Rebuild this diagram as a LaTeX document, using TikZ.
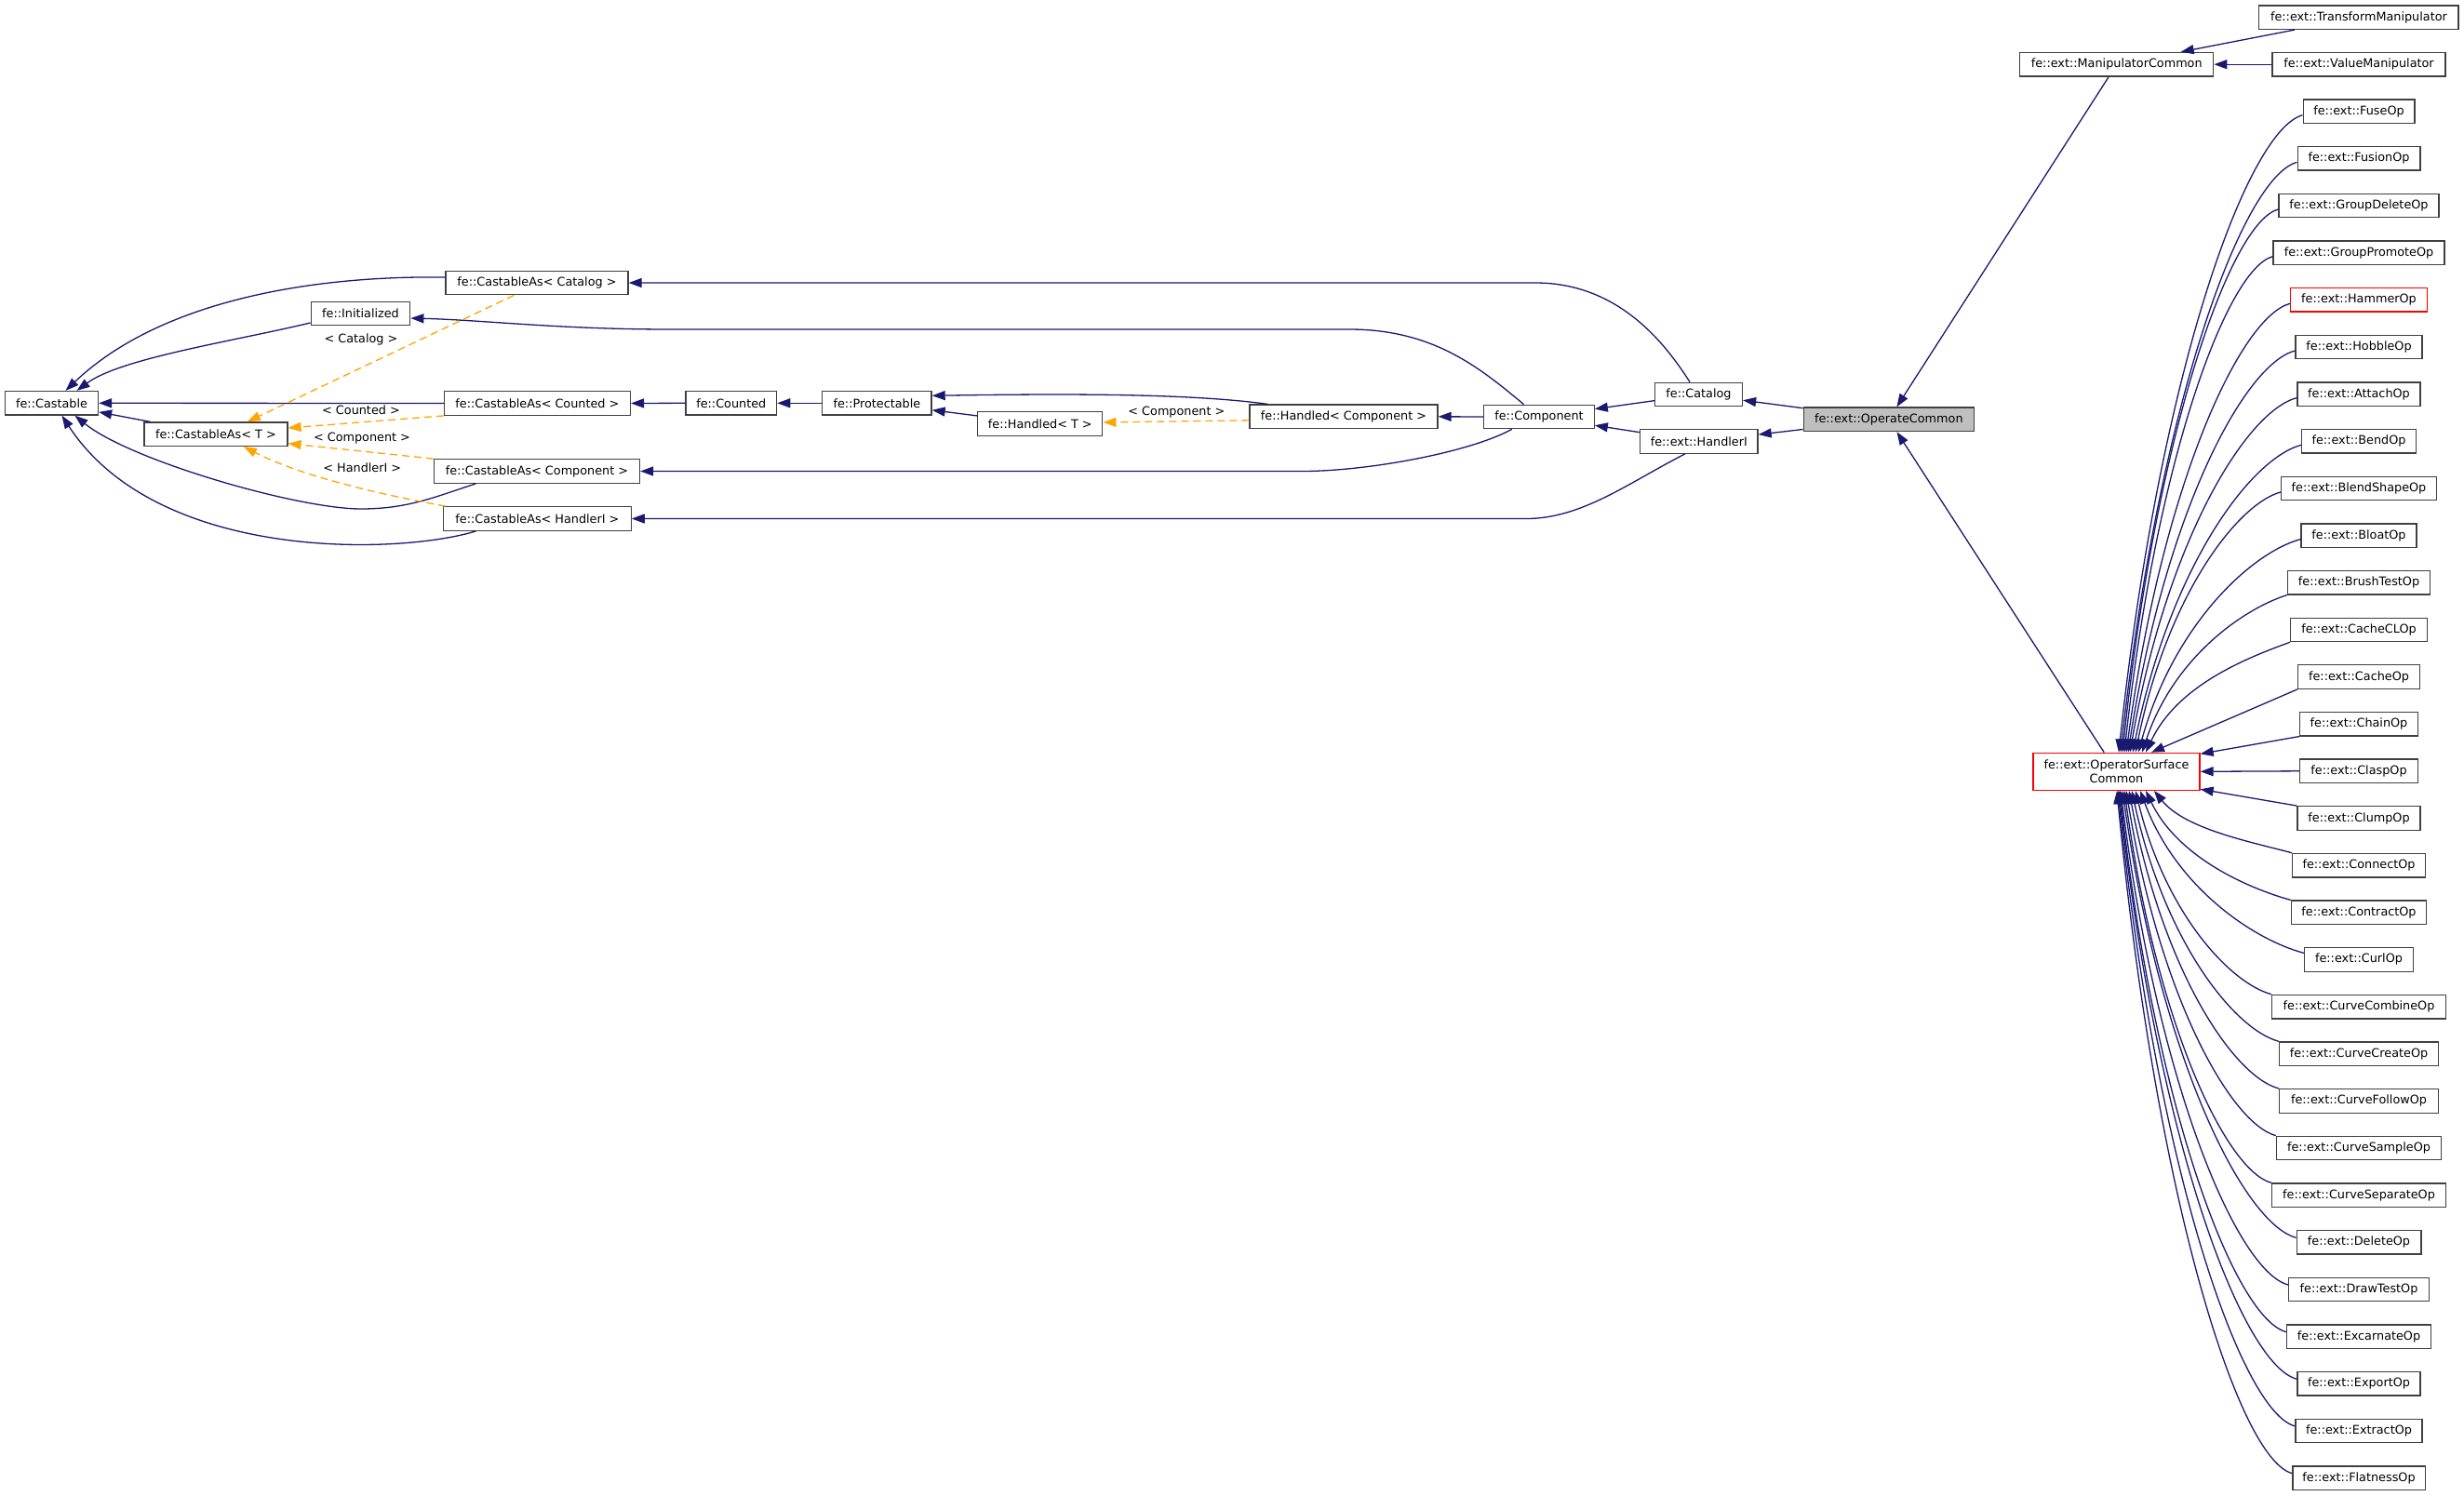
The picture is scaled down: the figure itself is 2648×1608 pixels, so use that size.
\documentclass[tikz,border=0pt]{standalone}
\usepackage{fontspec}
\setmainfont{DejaVu Sans}
\usetikzlibrary{arrows.meta,calc}
\definecolor{edgeblue}{HTML}{191970}
\definecolor{tmplorange}{HTML}{FFA500}
\definecolor{boxline}{HTML}{404040}
\definecolor{curfill}{HTML}{BFBFBF}
\definecolor{truncred}{HTML}{FF0000}
\newcommand{\dxfont}{\fontsize{12.8pt}{14.5pt}\selectfont}
\tikzset{
  classbox/.style={draw=boxline, fill=white, line width=1.3pt, minimum width=#1pt,
                   minimum height=25.5pt, inner sep=0pt, font=\dxfont},
  currentbox/.style={classbox=#1, fill=curfill},
  truncbox/.style={classbox=#1, draw=truncred},
  inherit/.style={draw=edgeblue, line width=1.3pt, -{Triangle[length=14pt,width=10pt]}},
  tmpl/.style={draw=tmplorange, line width=1.3pt, dash pattern=on 8pt off 5pt,
               -{Triangle[length=14pt,width=10pt]}},
  edgelabel/.style={font=\dxfont, inner sep=0pt},
}
\begin{document}
\begin{tikzpicture}[x=1pt, y=-1pt]
    \useasboundingbox (0,0) rectangle (2648,1608);
    % left part
    \node[classbox=100] (castable) at (55.5, 433.3) {fe::Castable};
    \node[classbox=154] (casT) at (231.9, 466.7) {fe::CastableAs< T >};
    \node[classbox=106.5] (initialized) at (387.5, 337) {fe::Initialized};
    \node[classbox=196] (cCatalog) at (577, 304) {fe::CastableAs< Catalog >};
    \node[classbox=200] (cCounted) at (577.4, 433.5) {fe::CastableAs< Counted >};
    \node[classbox=221] (cComponent) at (577, 506.5) {fe::CastableAs< Component >};
    \node[classbox=201.5] (cHandlerI) at (577.4, 557.5) {fe::CastableAs< HandlerI >};
    \node[classbox=97.6] (counted) at (785.8, 433.3) {fe::Counted};
    \node[classbox=117.3] (protectable) at (942.4, 433.3) {fe::Protectable};
    \node[classbox=134] (handledT) at (1117.8, 455.5) {fe::Handled< T >};
    \node[classbox=202] (handledC) at (1444, 447.8) {fe::Handled< Component >};
    \node[classbox=118.4] (component) at (1654, 448) {fe::Component};
    \node[classbox=94] (catalog) at (1825.5, 424) {fe::Catalog};
    \node[classbox=126.5] (handlerI) at (1825.8, 474.5) {fe::ext::HandlerI};
    \node[currentbox=183] (operate) at (2029.8, 450.8) {fe::ext::OperateCommon};
    \node[classbox=208] (manip) at (2274.7, 69.2) {fe::ext::ManipulatorCommon};
    \node[classbox=214.3] (transform) at (2534.9, 18.7) {fe::ext::TransformManipulator};
    \node[classbox=186] (value) at (2535, 69.2) {fe::ext::ValueManipulator};
    \node[truncbox=179, minimum height=40pt, align=center] (osc) at (2274.5, 829.3) {fe::ext::OperatorSurface\\Common};
    % template labels
    \node[edgelabel] (lCatalog) at (388, 365) {< Catalog >};
    \node[edgelabel] (lCounted) at (388, 440.3) {< Counted >};
    \node[edgelabel] (lComponent) at (389, 470.7) {< Component >};
    \node[edgelabel] (lHandlerI) at (389.3, 502.3) {< HandlerI >};
    \node[edgelabel] (lHandled) at (1264.4, 442.7) {< Component >};
    % right column
    \node[classbox=119.7] (fuseOp) at (2535, 119.7) {fe::ext::FuseOp};
    \node[classbox=131.7] (fusionOp) at (2535, 170.4) {fe::ext::FusionOp};
    \node[classbox=172] (groupDeleteOp) at (2535, 221) {fe::ext::GroupDeleteOp};
    \node[classbox=184] (groupPromoteOp) at (2535, 271.7) {fe::ext::GroupPromoteOp};
    \node[truncbox=146.7] (hammerOp) at (2535, 322.3) {fe::ext::HammerOp};
    \node[classbox=136] (hobbleOp) at (2535, 373) {fe::ext::HobbleOp};
    \node[classbox=132] (attachOp) at (2535, 423.6) {fe::ext::AttachOp};
    \node[classbox=122.7] (bendOp) at (2535, 474.3) {fe::ext::BendOp};
    \node[classbox=166.7] (blendShapeOp) at (2535, 524.9) {fe::ext::BlendShapeOp};
    \node[classbox=124] (bloatOp) at (2535, 575.6) {fe::ext::BloatOp};
    \node[classbox=153.3] (brushTestOp) at (2535, 626.2) {fe::ext::BrushTestOp};
    \node[classbox=146.7] (cacheCLOp) at (2535, 676.9) {fe::ext::CacheCLOp};
    \node[classbox=130.7] (cacheOp) at (2535, 727.5) {fe::ext::CacheOp};
    \node[classbox=127] (chainOp) at (2535, 778.2) {fe::ext::ChainOp};
    \node[classbox=127] (claspOp) at (2535, 828.8) {fe::ext::ClaspOp};
    \node[classbox=132] (clumpOp) at (2535, 879.5) {fe::ext::ClumpOp};
    \node[classbox=142.7] (connectOp) at (2535, 930.1) {fe::ext::ConnectOp};
    \node[classbox=145.3] (contractOp) at (2535, 980.8) {fe::ext::ContractOp};
    \node[classbox=116.7] (curlOp) at (2535, 1031.4) {fe::ext::CurlOp};
    \node[classbox=187] (curveCombineOp) at (2535, 1082.1) {fe::ext::CurveCombineOp};
    \node[classbox=171] (curveCreateOp) at (2535, 1132.7) {fe::ext::CurveCreateOp};
    \node[classbox=170.7] (curveFollowOp) at (2535, 1183.4) {fe::ext::CurveFollowOp};
    \node[classbox=177.3] (curveSampleOp) at (2535, 1234) {fe::ext::CurveSampleOp};
    \node[classbox=187] (curveSeparateOp) at (2535, 1284.7) {fe::ext::CurveSeparateOp};
    \node[classbox=133.7] (deleteOp) at (2535, 1335.3) {fe::ext::DeleteOp};
    \node[classbox=150.7] (drawTestOp) at (2535, 1386) {fe::ext::DrawTestOp};
    \node[classbox=155] (excarnateOp) at (2535, 1436.6) {fe::ext::ExcarnateOp};
    \node[classbox=132] (exportOp) at (2535, 1487.3) {fe::ext::ExportOp};
    \node[classbox=136] (extractOp) at (2535, 1537.9) {fe::ext::ExtractOp};
    \node[classbox=142.3] (flatnessOp) at (2535, 1588.6) {fe::ext::FlatnessOp};
    % inheritance, left part
    \draw[inherit] ($(cCatalog.west)+(0,-6)$) .. controls (330,296) and (170,325) .. ($(castable.north)+(15,0)$);
    \draw[inherit] ($(initialized.west)+(0,10)$) .. controls (250,367) and (130,385) .. ($(castable.north)+(27,0)$);
    \draw[inherit] (cCounted.west) -- (castable.east);
    \draw[inherit] (casT) -- (castable);
    \draw[inherit] ($(cComponent.south west)+(45.5,0)$) .. controls (470,533) and (440,547) .. (388,547)
        .. controls (320,547) and (140,495) .. ($(castable.south)+(25,0)$);
    \draw[inherit] ($(cHandlerI.south west)+(35.4,0)$) .. controls (430,596) and (170,605) .. ($(castable.south)+(11,0)$);
    \draw[tmpl] ($(cCatalog.south west)+(74,0)$) -- ($(casT.north)+(34,0)$);
    \draw[tmpl] (cCounted.south west) -- ($(casT.east)+(0,-6.7)$);
    \draw[tmpl] (cComponent.north west) -- ($(casT.east)+(0,10)$);
    \draw[tmpl] ($(cHandlerI.north west)+(3,0)$) .. controls (400,530) and (320,510) .. ($(casT.south)+(30,0)$);
    % inheritance, middle part
    \draw[inherit] (counted.west) -- (cCounted.east);
    \draw[inherit] (protectable.west) -- (counted.east);
    \draw[inherit] (handledT) -- (protectable);
    \draw[inherit] ($(handledC.north west)+(20,0)$) .. controls (1280,423) and (1150,423) .. ($(protectable.east)+(0,-8)$);
    \draw[tmpl] ($(handledC.west)+(0,4)$) -- ($(handledT.east)+(0,-1.5)$);
    \draw[inherit] (component.west) -- (handledC.east);
    \draw[inherit] ($(catalog.north)+(-9.5,0)$) .. controls (1790,370) and (1740,304) .. (1650,304) -- (cCatalog.east);
    \draw[inherit] ($(component.north)+(-16.5,0)$) .. controls (1590,395) and (1540,354) .. (1450,354) -- (720,354)
        .. controls (600,354) and (520,344) .. ($(initialized.east)+(0,5)$);
    \draw[inherit] ($(component.south)+(-29.3,0)$) .. controls (1580,486) and (1470,506.5) .. (1400,506.5) -- (cComponent.east);
    \draw[inherit] ($(handlerI.south)+(-15,0)$) .. controls (1750,519) and (1700,557.5) .. (1640,557.5) -- (cHandlerI.east);
    \draw[inherit] (catalog) -- (component);
    \draw[inherit] (handlerI) -- (component);
    \draw[inherit] (operate) -- (catalog);
    \draw[inherit] (operate) -- (handlerI);
    \draw[inherit] (manip) -- (operate);
    \draw[inherit] (osc) -- (operate);
    \draw[inherit] (transform) -- (manip);
    \draw[inherit] (value.west) -- (manip.east);
    % inheritance, right column
    \draw[inherit] ($(fuseOp.west)+(0,4)$) .. controls +(-59,16) and +(44,-411) .. ($(osc.north)+(2.5,0)$);
    \draw[inherit] ($(fusionOp.west)+(0,4)$) .. controls +(-57,15) and +(42,-381) .. ($(osc.north)+(4.5,0)$);
    \draw[inherit] ($(groupDeleteOp.west)+(0,4)$) .. controls +(-50,13) and +(37,-351) .. ($(osc.north)+(6.5,0)$);
    \draw[inherit] ($(groupPromoteOp.west)+(0,4)$) .. controls +(-48,13) and +(35,-320) .. ($(osc.north)+(8.5,0)$);
    \draw[inherit] ($(hammerOp.west)+(0,4)$) .. controls +(-53,14) and +(39,-290) .. ($(osc.north)+(10.5,0)$);
    \draw[inherit] ($(hobbleOp.west)+(0,4)$) .. controls +(-54,14) and +(40,-259) .. ($(osc.north)+(12.5,0)$);
    \draw[inherit] ($(attachOp.west)+(0,4)$) .. controls +(-54,14) and +(40,-229) .. ($(osc.north)+(14.5,0)$);
    \draw[inherit] ($(bendOp.west)+(0,4)$) .. controls +(-55,15) and +(40,-199) .. ($(osc.north)+(17.5,0)$);
    \draw[inherit] ($(blendShapeOp.west)+(0,4)$) .. controls +(-47,13) and +(34,-168) .. ($(osc.north)+(20.5,0)$);
    \draw[inherit] ($(bloatOp.west)+(0,4)$) .. controls +(-52,14) and +(38,-138) .. ($(osc.north)+(23.5,0)$);
    \draw[inherit] (brushTestOp.south west) .. controls +(-47,15) and +(34,-102) .. ($(osc.north)+(27.5,0)$);
    \draw[inherit] (cacheCLOp.south west) .. controls +(-47,17) and +(34,-72) .. ($(osc.north)+(31.5,0)$);
    \draw[inherit] (cacheOp.south west) -- ($(osc.north)+(37.5,0)$);
    \draw[inherit] (chainOp.south west) -- ($(osc.east)+(0,-19)$);
    \draw[inherit] (claspOp.west) -- (osc.east);
    \draw[inherit] (clumpOp.north west) -- ($(osc.east)+(0,19)$);
    \draw[inherit] (connectOp.north west) .. controls +(-45,-12) and +(33,41) .. ($(osc.south)+(40.5,0)$);
    \draw[inherit] (contractOp.north west) .. controls +(-47,-13) and +(34,71) .. ($(osc.south)+(31.5,0)$);
    \draw[inherit] ($(curlOp.west)+(0,-7)$) .. controls +(-53,-14) and +(39,105) .. ($(osc.south)+(25.5,0)$);
    \draw[inherit] (curveCombineOp.north west) .. controls +(-44,-12) and +(32,132) .. ($(osc.south)+(20.5,0)$);
    \draw[inherit] (curveCreateOp.north west) .. controls +(-48,-13) and +(35,162) .. ($(osc.south)+(16.5,0)$);
    \draw[inherit] (curveFollowOp.north west) .. controls +(-49,-13) and +(36,193) .. ($(osc.south)+(13.5,0)$);
    \draw[inherit] (curveSampleOp.north west) .. controls +(-48,-13) and +(36,223) .. ($(osc.south)+(10.5,0)$);
    \draw[inherit] (curveSeparateOp.north west) .. controls +(-48,-13) and +(35,254) .. ($(osc.south)+(8.5,0)$);
    \draw[inherit] ($(deleteOp.west)+(0,-5)$) .. controls +(-56,-15) and +(41,289) .. ($(osc.south)+(6.5,0)$);
    \draw[inherit] ($(drawTestOp.west)+(0,-5)$) .. controls +(-54,-14) and +(40,319) .. ($(osc.south)+(4.5,0)$);
    \draw[inherit] ($(excarnateOp.west)+(0,-5)$) .. controls +(-54,-14) and +(39,349) .. ($(osc.south)+(3.5,0)$);
    \draw[inherit] ($(exportOp.west)+(0,-5)$) .. controls +(-58,-15) and +(42,380) .. ($(osc.south)+(2.5,0)$);
    \draw[inherit] ($(extractOp.west)+(0,-5)$) .. controls +(-57,-15) and +(42,410) .. ($(osc.south)+(1.5,0)$);
    \draw[inherit] ($(flatnessOp.west)+(0,-5)$) .. controls +(-57,-15) and +(42,441) .. ($(osc.south)+(0.5,0)$);
  \end{tikzpicture}
\end{document}
